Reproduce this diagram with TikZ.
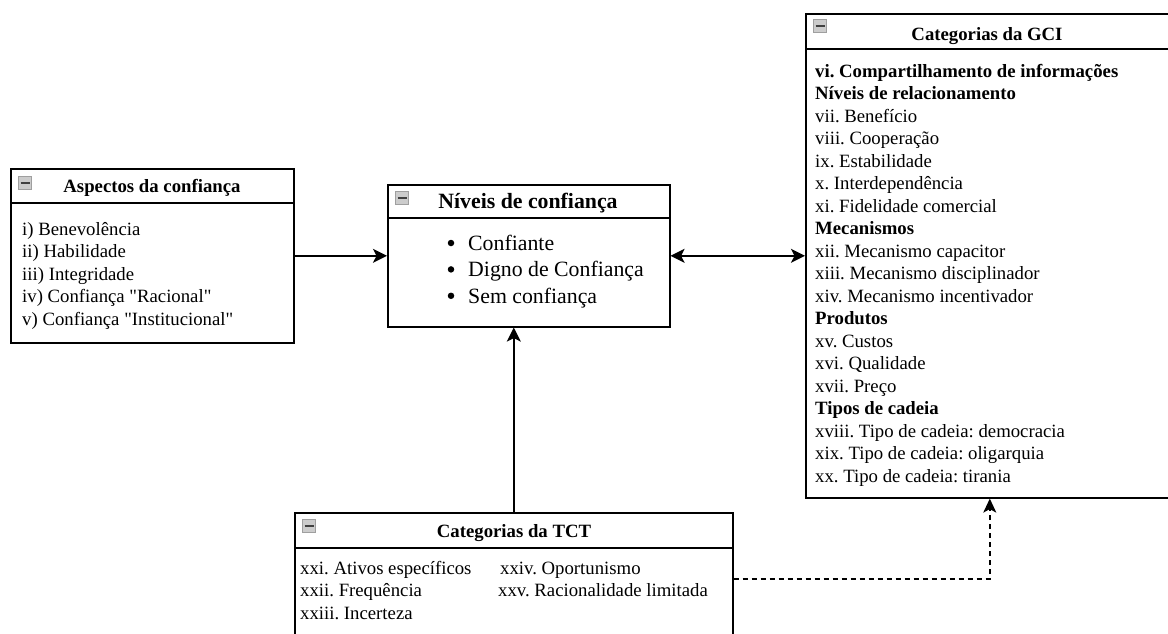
\documentclass[tikz,border=0pt]{standalone}
\usepackage{fontspec}
\setmainfont{Liberation Serif}
\newfontfamily\plainserif{Liberation Serif}
\usetikzlibrary{arrows.meta}
\frenchspacing
\tikzset{
  box/.style={draw=black, line width=1.6pt, fill=white, inner sep=0pt, anchor=north west},
  hdr/.style={draw=black, line width=1.4pt},
  body/.style={inner sep=0pt, anchor=north west, align=left, font=\fontsize{18.75}{22.5}\selectfont},
  ttl/.style={inner sep=0pt, anchor=base, font=\fontsize{18.75}{22.5}\selectfont\bfseries},
  icon/.style={draw=gray!75, fill=gray!40, line width=1pt, minimum size=13pt, inner sep=0pt, anchor=north west},
  bulletdot/.style={circle, fill=black, inner sep=0pt, minimum size=6.5pt},
  arr/.style={draw=black, line width=1.6pt, -{Stealth[length=14pt,width=14pt,inset=3.5pt]}},
  darr/.style={draw=black, line width=1.6pt, {Stealth[length=14pt,width=14pt,inset=3.5pt]}-{Stealth[length=14pt,width=14pt,inset=3.5pt]}},
  dash arr/.style={draw=black, line width=1.6pt, dashed, dash pattern=on 5pt off 4pt, -{Stealth[length=14pt,width=13pt,inset=3.5pt]}},
}
\newcommand{\collapseicon}[2]{%
  \node[icon] (#1) at (#2) {};
  \draw[line width=2pt, black!75] ([xshift=2.5pt]#1.west) -- ([xshift=-2.5pt]#1.east);
}
\newcommand{\qq}{{\plainserif\symbol{34}}}
\begin{document}
\begin{tikzpicture}[x=1pt, y=-1pt]
\useasboundingbox[fill=white] (0,0) rectangle (1168,633);

% Aspectos da confianca
\node[box, minimum width=283pt, minimum height=174pt] (asp) at (10,168) {};
\draw[hdr] ([yshift=-35pt]asp.north west) -- ([yshift=-35pt]asp.north east);
\collapseicon{aspicon}{18,176}
\node[ttl] (asptitle) at (152,192) {Aspectos da confiança};
\node[body] (asptext) at (22,235) {%
\smash{i) Benevolência}\\ii) Habilidade\\iii) Integridade\\iv) Confiança \qq Racional\qq\\v) Confiança \qq Institucional\qq};

% Niveis de confianca
\node[box, minimum width=282pt, minimum height=142pt] (niv) at (387,184) {};
\draw[hdr] ([yshift=-34pt]niv.north west) -- ([yshift=-34pt]niv.north east);
\collapseicon{nivicon}{395,191}
\node[ttl, font=\fontsize{21.8}{26.4}\selectfont\bfseries] (nivtitle) at (528,208) {Níveis de confiança};
\node[body, font=\fontsize{21.8}{26.4}\selectfont] (nivtext) at (468,250) {%
\smash{Confiante}\\Digno de Confiança\\Sem confiança};
\node[bulletdot] (b1) at (451,243) {};
\node[bulletdot] (b2) at (451,269.4) {};
\node[bulletdot] (b3) at (451,295.8) {};

% Categorias da GCI
\node[box, minimum width=368pt, minimum height=484pt] (gci) at (805,13) {};
\draw[hdr] ([yshift=-36pt]gci.north west) -- ([yshift=-36pt]gci.north east);
\collapseicon{gciicon}{813,19}
\node[ttl] (gcititle) at (987,40) {Categorias da GCI};
\node[body] (gcitext) at (815,77) {%
\smash{\textbf{vi. Compartilhamento de informações}}\\
\textbf{Níveis de relacionamento}\\
vii. Benefício\\
viii. Cooperação\\
ix. Estabilidade\\
x. Interdependência\\
xi. Fidelidade comercial\\
\textbf{Mecanismos}\\
xii. Mecanismo capacitor\\
xiii. Mecanismo disciplinador\\
xiv. Mecanismo incentivador\\
\textbf{Produtos}\\
xv. Custos\\
xvi. Qualidade\\
xvii. Preço\\
\textbf{Tipos de cadeia}\\
xviii. Tipo de cadeia: democracia\\
xix. Tipo de cadeia: oligarquia\\
xx. Tipo de cadeia: tirania};

% Categorias da TCT
\node[box, minimum width=438pt, minimum height=132pt] (tct) at (294,512) {};
\draw[hdr] ([yshift=-36pt]tct.north west) -- ([yshift=-36pt]tct.north east);
\collapseicon{tcticon}{302,519}
\node[ttl] (tcttitle) at (514,537) {Categorias da TCT};
\node[body] (tctcol1) at (300,574) {\smash{xxi. Ativos específicos}\\xxii. Frequência\\xxiii. Incerteza};
\node[body] (tctcol2a) at (500,574) {\smash{xxiv. Oportunismo}};
\node[body] (tctcol2b) at (498,596) {\smash{xxv. Racionalidade limitada}};

% connectors
\draw[arr] (asp.east) -- (niv.west);
\draw[darr] (niv.east) -- (gci.west);
\draw[arr] (tct.north) -- (tct.north |- niv.south);
\coordinate (dashcorner) at (tct.east -| gci.south);
\draw[dash arr] (tct.east) -- (dashcorner) -- (gci.south);
\end{tikzpicture}
\end{document}
